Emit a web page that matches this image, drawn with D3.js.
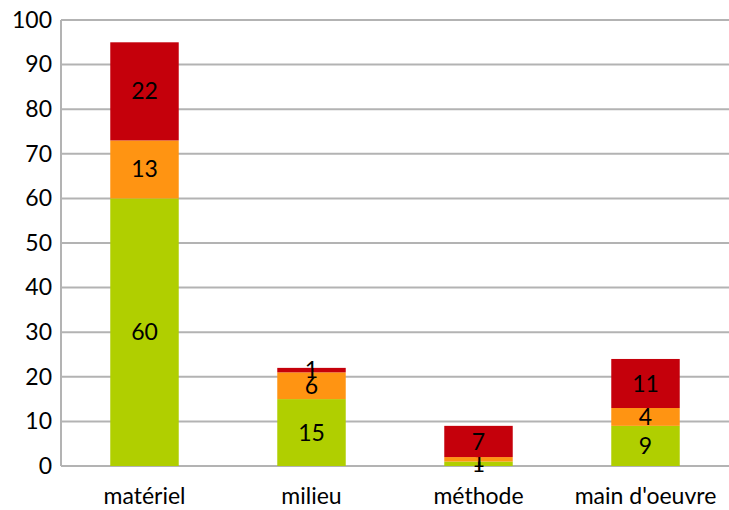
<!DOCTYPE html>
<html>
<head>
<meta charset="utf-8">
<script src="https://cdn.jsdelivr.net/npm/d3@7"></script>
<style>
  body { margin: 0; background: #fff; }
  text { font-family: Lato, "Open Sans", sans-serif; fill: #000; }
</style>
</head>
<body>
<svg id="svg" width="729" height="510"></svg>
<script>
// donnees
var categories = ["matériel", "milieu", "méthode", "main d'oeuvre"];
var vert = [60, 15, 1, 9];
var orange = [13, 6, 1, 4];
var rouge = [22, 1, 7, 11];
var yTicks = [0, 10, 20, 30, 40, 50, 60, 70, 80, 90, 100];
var couleurs = ["#b0cf00", "#ff9412", "#c5000b"];

var svg = d3.select("#svg");
var margin = {top: 20, right: 0, bottom: 44, left: 61},
    width = svg.attr("width") - margin.left - margin.right,
    height = svg.attr("height") - margin.top - margin.bottom,
    g = svg.append("g").attr("transform", "translate(" + margin.left + "," + margin.top + ")");

var x = d3.scaleBand().domain(categories).range([0, width]).padding(0);
var y = d3.scaleLinear().domain([0, 100]).range([height, 0]);
var barW = x.bandwidth() * 0.41;

var rows = categories.map(function(c, i) {
  return {cat: c, vert: vert[i], orange: orange[i], rouge: rouge[i]};
});
var series = d3.stack().keys(["vert", "orange", "rouge"])(rows);

// grille
g.selectAll(".grid")
  .data(yTicks)
  .enter().append("line")
  .attr("x1", 0).attr("x2", width)
  .attr("y1", function(d) { return y(d); })
  .attr("y2", function(d) { return y(d); })
  .attr("stroke", "#b3b3b3")
  .attr("stroke-width", 2);

// axe Y
g.append("line")
  .attr("x1", 0).attr("x2", 0)
  .attr("y1", 0).attr("y2", height)
  .attr("stroke", "#b3b3b3")
  .attr("stroke-width", 2);

var yAxis = g.append("g")
  .call(d3.axisLeft(y).tickValues(yTicks).tickSize(0).tickPadding(9));
yAxis.select(".domain").remove();
yAxis.selectAll("text").style("font-size", "23px").attr("fill", "#000");

// axe X
var xAxis = g.append("g")
  .attr("transform", "translate(0," + height + ")")
  .call(d3.axisBottom(x).tickSize(0).tickPadding(22));
xAxis.select(".domain").remove();
xAxis.selectAll("text").style("font-size", "23px").attr("fill", "#000");

// barres
var couche = g.selectAll(".serie")
  .data(series)
  .enter().append("g")
  .attr("fill", function(d, i) { return couleurs[i]; });

couche.selectAll("rect")
  .data(function(d) { return d; })
  .enter().append("rect")
  .attr("x", function(d) { return x(d.data.cat) + (x.bandwidth() - barW) / 2; })
  .attr("width", barW)
  .attr("y", function(d) { return y(d[1]); })
  .attr("height", function(d) { return y(d[0]) - y(d[1]); });

// etiquettes
couche.selectAll("text")
  .data(function(d) { return d; })
  .enter().append("text")
  .attr("x", function(d) { return x(d.data.cat) + x.bandwidth() / 2; })
  .attr("y", function(d) { return (y(d[0]) + y(d[1])) / 2; })
  .attr("text-anchor", "middle")
  .attr("dy", "0.35em")
  .style("font-size", "23px")
  .text(function(d) { return d[1] - d[0]; });
</script>
</body>
</html>
